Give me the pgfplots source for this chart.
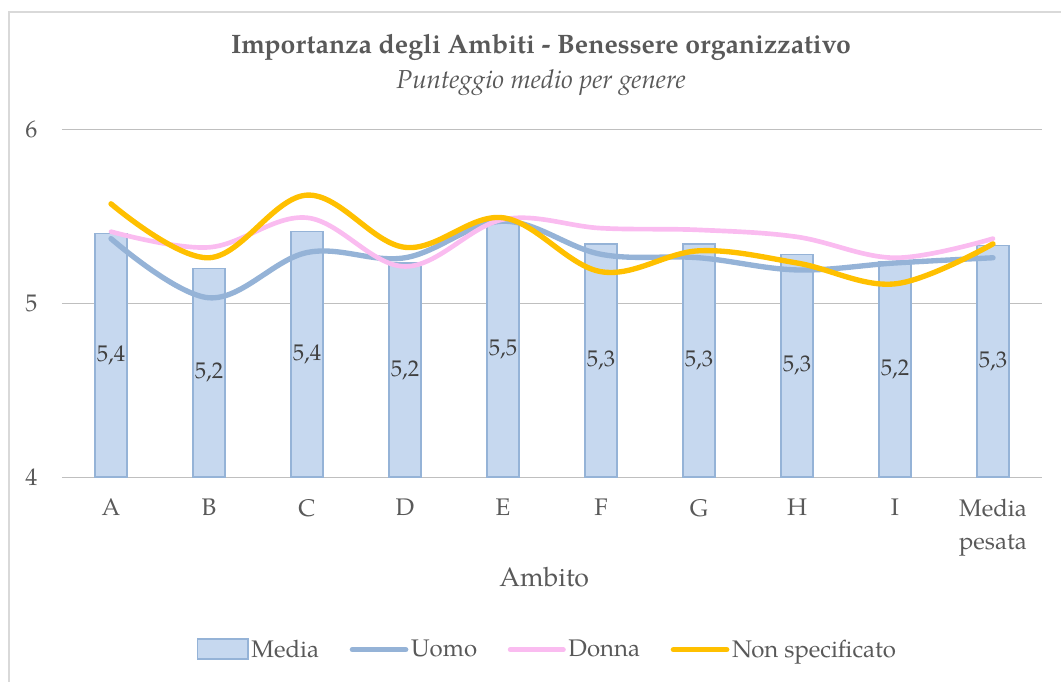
\documentclass[border=0pt]{standalone}
\usepackage{fontspec}
\setmainfont{texgyrepagella}[Extension=.otf, UprightFont=*-regular, BoldFont=*-bold, ItalicFont=*-italic, BoldItalicFont=*-bolditalic]
\usepackage{pgfplots}
\pgfplotsset{compat=1.18}
\definecolor{barfill}{HTML}{C6D8EF}
\definecolor{bardraw}{HTML}{95B3D7}
\definecolor{uomo}{HTML}{95B3D7}
\definecolor{donna}{HTML}{FABCF0}
\definecolor{nonspec}{HTML}{FFC000}
\definecolor{txt}{HTML}{595959}
\definecolor{grid}{HTML}{D9D9D9}
\begin{document}
\begin{tikzpicture}
\useasboundingbox (-46.5pt,-153.75pt) rectangle (749.25pt,357.75pt);
\begin{scope}
\clip (-46.5pt,-153.75pt) rectangle (749.25pt,357.75pt);
\draw[grid, line width=1.5pt] (-39.75pt,-170pt) -- (-39.75pt,348.75pt) -- (770pt,348.75pt);
\end{scope}
\node[txt, font=\fontsize{20}{24}\selectfont\bfseries] at (359.25pt,322.5pt) {Importanza degli Ambiti - Benessere organizzativo};
\node[txt, font=\fontsize{19.5}{23}\selectfont\itshape] at (359.25pt,295.5pt) {Punteggio medio per genere};
\begin{axis}[
  at={(0pt,0pt)}, anchor=south west,
  scale only axis,
  x=73.5pt, y=130.5pt,
  xmin=-0.5, xmax=9.5, ymin=4, ymax=6,
  xtick={0,...,9},
  xticklabels={A,B,C,D,E,F,G,H,I,{Media\\pesata}},
  ytick={4,5,6},
  axis line style={draw=none},
  tick style={draw=none},
  xmajorgrids=false,
  ymajorgrids, major grid style={grid, line width=0.75pt},
  /pgf/number format/assume math mode=true,
  /pgf/number format/use comma,
  ticklabel style={txt, font=\fontsize{18}{25}\selectfont},
  xticklabel style={align=center, anchor=north, yshift=-13pt},
  yticklabel style={xshift=-15pt},
  xlabel={Ambito},
  xlabel style={txt, font=\fontsize{20}{24}\selectfont, at={(axis description cs:0.492,-0.287)}, anchor=center},
  legend columns=4,
  legend style={draw=none, fill=none, at={(axis description cs:0.4955,-0.496)}, anchor=center,
    font=\fontsize{18}{21}\selectfont, text=txt,
    /tikz/every even column/.append style={column sep=21pt}},
  legend cell align=left,
]
\addplot[ybar, bar width=24pt, fill=barfill, draw=bardraw, line width=1pt,
  nodes near coords={\pgfmathprintnumber[fixed,precision=1,use comma,assume math mode=true]{\pgfplotspointmeta}},
  visualization depends on={rawy \as \rawy},
  every node near coord/.append style={anchor=center, text=black!75, font=\fontsize{17}{20}\selectfont, yshift={-(\rawy-4)*65.25}},
  legend image code/.code={\draw[fill=barfill, draw=bardraw, line width=1pt] (0pt,-7pt) rectangle (38pt,8pt);}
] coordinates {(0,5.40) (1,5.20) (2,5.41) (3,5.23) (4,5.47) (5,5.34) (6,5.34) (7,5.28) (8,5.24) (9,5.33)};
\addlegendentry{Media}
\addplot[smooth, tension=0.6, uomo, line width=4pt, line cap=round,
  legend image code/.code={\draw[uomo, line width=4pt, line cap=round] (0pt,0pt) -- (40pt,0pt);}]
  coordinates {(0,5.37) (1,5.03) (2,5.29) (3,5.26) (4,5.47) (5,5.28) (6,5.26) (7,5.19) (8,5.23) (9,5.26)};
\addlegendentry{Uomo}
\addplot[smooth, tension=0.6, donna, line width=3.5pt, line cap=round,
  legend image code/.code={\draw[donna, line width=3.5pt, line cap=round] (0pt,0pt) -- (40pt,0pt);}]
  coordinates {(0,5.41) (1,5.32) (2,5.49) (3,5.21) (4,5.48) (5,5.43) (6,5.42) (7,5.38) (8,5.26) (9,5.37)};
\addlegendentry{Donna}
\addplot[smooth, tension=0.6, nonspec, line width=4pt, line cap=round,
  legend image code/.code={\draw[nonspec, line width=4pt, line cap=round] (0pt,0pt) -- (40pt,0pt);}]
  coordinates {(0,5.57) (1,5.26) (2,5.62) (3,5.32) (4,5.49) (5,5.18) (6,5.30) (7,5.23) (8,5.11) (9,5.34)};
\addlegendentry{Non specificato}
\end{axis}
\end{tikzpicture}
\end{document}
